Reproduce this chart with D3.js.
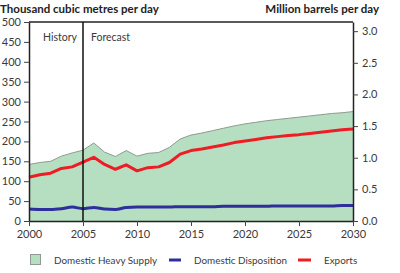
<!DOCTYPE html>
<html><head><meta charset="utf-8">
<script src="https://cdn.jsdelivr.net/npm/d3@7"></script>
<style>body{margin:0;background:#fff}svg{display:block;font-family:Lato,"DejaVu Sans",sans-serif}</style>
</head><body><svg id="c" width="400" height="273"></svg>
<script>
const years = d3.range(2000, 2031);
const heavySupply = [142,147,150,163,171,178,196,173,162,177,163,170,172,185,206,216,221,227,233,239,244,248,252,255,258,261,264,267,270,272,275];
const exportsVals = [110,116,120,132,136,148,160,142,130,141,126,134,136,147,168,177,181,186,191,197,201,205,209,212,215,217,220,223,226,229,231];
const domesticDisp = [30,29,29,31,35,31,34,30,29,34,35,35,35,35,36,36,36,36,37,37,37,37,37,38,38,38,38,38,38,39,39];
const leftTicks = [0,50,100,150,200,250,300,350,400,450,500];
const rightTicks = [0,0.5,1.0,1.5,2.0,2.5,3.0];
const xTicks = [2000,2005,2010,2015,2020,2025,2030];
const legendLabels = ["Domestic Heavy Supply","Domestic Disposition","Exports"];

const svg = d3.select("#c");
const L=29,R=353,T=22,B=221;
const x = d3.scaleLinear().domain([2000,2030]).range([L,R]);
const y = d3.scaleLinear().domain([0,500]).range([B,T]);
const y2 = d3.scaleLinear().domain([0,500*6.2898/1000]).range([B,T]);
const txt="#3a3a3a";

svg.append("path").datum(years.map((yr,i)=>[yr,heavySupply[i]]))
  .attr("d", d3.area().x(d=>x(d[0])).y0(B).y1(d=>y(d[1])))
  .attr("fill","#b6dec0");
svg.append("path").datum(years.map((yr,i)=>[yr,heavySupply[i]]))
  .attr("d", d3.line().x(d=>x(d[0])).y(d=>y(d[1])))
  .attr("fill","none").attr("stroke","#8f9a92").attr("stroke-width",1);
svg.append("path").datum(years.map((yr,i)=>[yr,domesticDisp[i]]))
  .attr("d", d3.line().curve(d3.curveMonotoneX).x(d=>x(d[0])).y(d=>y(d[1])))
  .attr("fill","none").attr("stroke","#2e2e9c").attr("stroke-width",3);
svg.append("path").datum(years.map((yr,i)=>[yr,exportsVals[i]]))
  .attr("d", d3.line().x(d=>x(d[0])).y(d=>y(d[1])))
  .attr("fill","none").attr("stroke","#ee1c24").attr("stroke-width",3).attr("stroke-linejoin","round");

svg.append("line").attr("x1",L).attr("x2",R).attr("y1",T).attr("y2",T).attr("stroke","#222").attr("stroke-width",1.5);
svg.append("line").attr("x1",x(2005)).attr("x2",x(2005)).attr("y1",T).attr("y2",B).attr("stroke","#111").attr("stroke-width",1.5);
svg.append("text").attr("x",x(2005)-6).attr("y",41).attr("text-anchor","end").attr("font-size",10.5).attr("fill",txt).text("History");
svg.append("text").attr("x",x(2005)+8).attr("y",41).attr("font-size",10.5).attr("fill",txt).text("Forecast");

function styleAxis(g){
  g.selectAll("path.domain").attr("stroke","#222").attr("stroke-width",1.5);
  g.selectAll(".tick line").attr("stroke","#444");
  g.selectAll(".tick text").attr("fill",txt).attr("font-size",11).attr("font-family","Lato,'DejaVu Sans',sans-serif");
}
svg.append("g").attr("transform",`translate(${L},0)`)
  .call(d3.axisLeft(y).tickValues(leftTicks).tickSize(5).tickSizeOuter(0).tickPadding(3))
  .call(styleAxis);
svg.append("g").attr("transform",`translate(${R},0)`)
  .call(d3.axisRight(y2).tickValues(rightTicks).tickFormat(d3.format(".1f")).tickSize(5).tickSizeOuter(0).tickPadding(4))
  .call(styleAxis);
svg.append("g").attr("transform",`translate(0,${B})`)
  .call(d3.axisBottom(x).tickValues(xTicks).tickFormat(d3.format("d")).tickSize(5).tickSizeOuter(0).tickPadding(4))
  .call(styleAxis);

svg.append("text").attr("x",0).attr("y",13).attr("font-size",11.5).attr("font-weight","bold").attr("fill","#222").text("Thousand cubic metres per day");
svg.append("text").attr("x",379).attr("y",13).attr("text-anchor","end").attr("font-size",11.5).attr("font-weight","bold").attr("fill","#222").text("Million barrels per day");

const ly=260;
svg.append("rect").attr("x",30.5).attr("y",254.5).attr("width",10).attr("height",10).attr("fill","#b6dec0").attr("stroke","#8f9a92");
svg.append("text").attr("x",54).attr("y",ly+4).attr("font-size",9.9).attr("fill",txt).text(legendLabels[0]);
svg.append("line").attr("x1",169).attr("x2",181).attr("y1",ly).attr("y2",ly).attr("stroke","#2e2e9c").attr("stroke-width",3);
svg.append("text").attr("x",194).attr("y",ly+4).attr("font-size",9.9).attr("fill",txt).text(legendLabels[1]);
svg.append("line").attr("x1",298).attr("x2",311).attr("y1",ly).attr("y2",ly).attr("stroke","#ee1c24").attr("stroke-width",3);
svg.append("text").attr("x",324).attr("y",ly+4).attr("font-size",9.9).attr("fill",txt).text(legendLabels[2]);
</script></body></html>
